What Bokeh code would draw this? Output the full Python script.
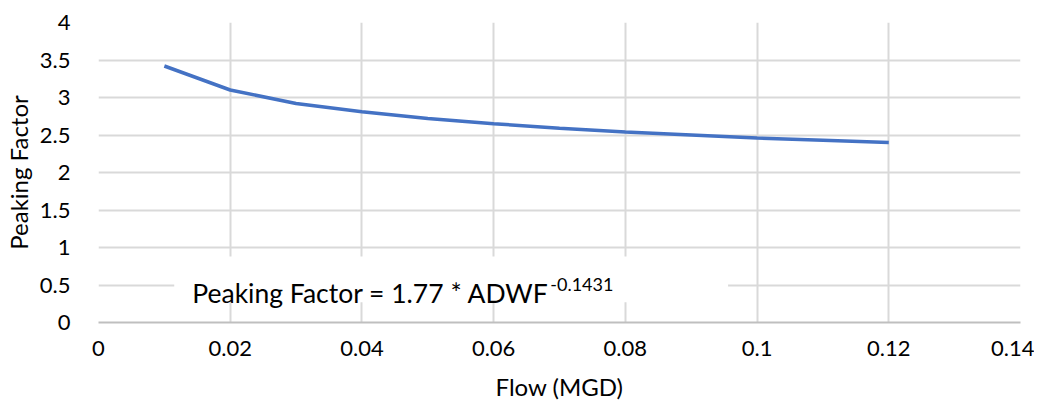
from bokeh.plotting import figure
from bokeh.models import (Range1d, FixedTicker, CustomJSTickFormatter, BoxAnnotation, Label)
from bokeh.embed import file_html
from bokeh.resources import INLINE

# Data
flow_mgd = [0.01, 0.02, 0.03, 0.04, 0.05, 0.06, 0.07, 0.08, 0.09, 0.10, 0.11, 0.12]
peaking_factor = [3.42, 3.10, 2.92, 2.81, 2.72, 2.65, 2.59, 2.54, 2.50, 2.46, 2.43, 2.40]
x_ticks = [0, 0.02, 0.04, 0.06, 0.08, 0.10, 0.12, 0.14]
y_ticks = [0, 0.5, 1, 1.5, 2, 2.5, 3, 3.5, 4]
eq_main = "Peaking Factor = 1.77 * ADWF"
eq_exp = "-0.1431"

FONT = "Lato"
GRID = "#d9d9d9"
TXT = "#000000"

p = figure(frame_width=922, frame_height=300, output_backend="svg", toolbar_location=None,
           x_range=Range1d(0, 0.14), y_range=Range1d(0, 4),
           min_border_left=86, min_border_right=14, min_border_top=22, min_border_bottom=74)
p.outline_line_color = None
p.background_fill_color = "white"
p.border_fill_color = "white"

p.line(flow_mgd, peaking_factor, line_color="#4472C4", line_width=3.5)

fmt = CustomJSTickFormatter(code="return tick.toFixed(2).replace(/\\.?0+$/, '');")
p.xaxis.ticker = FixedTicker(ticks=x_ticks)
p.yaxis.ticker = FixedTicker(ticks=y_ticks)
p.xaxis.formatter = fmt
p.yaxis.formatter = fmt

for ax in (p.xaxis, p.yaxis):
    ax.major_tick_line_color = None
    ax.minor_tick_line_color = None
    ax.major_label_text_font = FONT
    ax.major_label_text_font_size = "22px"
    ax.major_label_text_color = TXT
    ax.axis_label_text_font = FONT
    ax.axis_label_text_font_size = "24px"
    ax.axis_label_text_font_style = "normal"
    ax.axis_label_text_color = TXT

p.xaxis.axis_line_color = "#bfbfbf"
p.xaxis.axis_line_width = 2
p.yaxis.axis_line_color = None
p.xaxis.major_label_standoff = 12
p.yaxis.major_label_standoff = 22
p.xaxis.axis_label = "Flow (MGD)"
p.yaxis.axis_label = "Peaking Factor"
p.xaxis.axis_label_standoff = 13
p.yaxis.axis_label_standoff = 4

p.xgrid.grid_line_color = GRID
p.ygrid.grid_line_color = GRID
p.xgrid.grid_line_width = 2
p.ygrid.grid_line_width = 2

box = BoxAnnotation(left=0.0115, right=0.0956, bottom=0.27, top=0.88,
                    fill_color="white", fill_alpha=1.0, line_color=None)
p.add_layout(box)

p.add_layout(Label(x=0.01424, y=0.40, text=eq_main, text_font=FONT,
                   text_font_size="26.5px", text_color=TXT, text_baseline="alphabetic"))
p.add_layout(Label(x=0.0686, y=0.507, text=eq_exp, text_font=FONT,
                   text_font_size="18px", text_color=TXT, text_baseline="alphabetic"))

open("out.html", "w").write(file_html(p, INLINE))
